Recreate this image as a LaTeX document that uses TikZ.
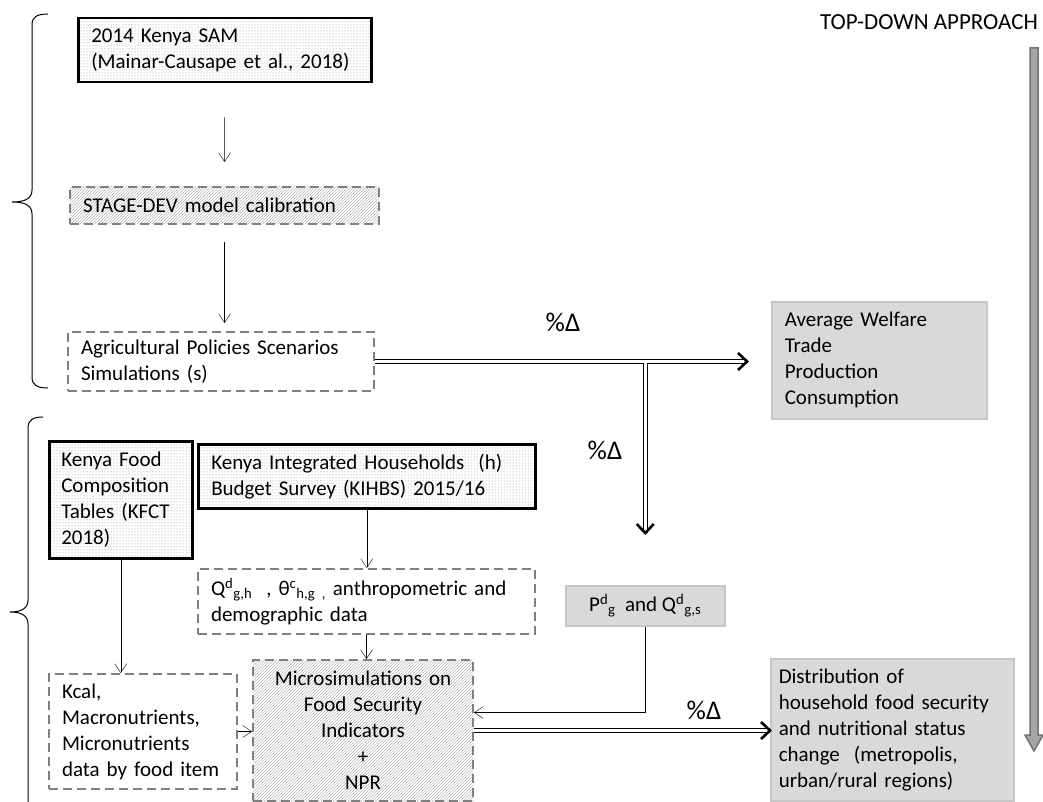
\documentclass[tikz,border=0pt]{standalone}
\usepackage{fontspec}
\setmainfont{Carlito}
\usetikzlibrary{arrows.meta,patterns,decorations.markings}

\tikzset{
  srcbox/.style={draw=black, line width=2.5pt, pattern=dots, pattern color=black!45, anchor=north west, align=left, inner xsep=13pt, inner ysep=0pt},
  calbox/.style={draw=black!50, line width=2pt, dash pattern=on 9pt off 5pt, pattern=north east lines, pattern color=black!28, anchor=north west, inner xsep=13pt, inner ysep=0pt},
  simbox/.style={draw=black!50, line width=2pt, dash pattern=on 9pt off 5pt, fill=white, anchor=north west, align=left, inner xsep=13pt, inner ysep=0pt},
  resbox/.style={draw=black!22, line width=1.5pt, fill=black!15, anchor=north west, align=left, inner xsep=13pt, inner ysep=0pt},
  dbl/.style={double, double distance=3pt, line width=1pt, postaction={decorate},
    decoration={markings, mark=at position 1 with {\draw[line width=2.6pt] (-9pt,8.5pt) -- (0pt,0pt) -- (-9pt,-8.5pt);}}},
  delta/.style={font=\fontsize{27}{30}\selectfont},
  brace/.style={line width=1pt}
}

\begin{document}
\begin{tikzpicture}[x=1pt, y=-1pt, every node/.style={font=\fontsize{21}{26}\selectfont}, >={Straight Barb[length=9pt,width=12pt]}]
    \useasboundingbox (0,0) rectangle (1043,802);
    \clip (0,0) rectangle (1043,802);
    \node[srcbox, text width=267pt, minimum height=64pt] (sam) at (77,17) {2014 Kenya SAM\\(Mainar-Causape et al., 2018)};
    \node[calbox, text width=283pt, minimum height=37pt, align=left] (stage) at (69,186) {STAGE-DEV model calibration};
    \node[simbox, text width=280pt, minimum height=59pt] (agri) at (67,331) {Agricultural Policies Scenarios\\Simulations (s)};
    \node[resbox, text width=189pt, minimum height=117pt] (avg) at (771,301) {Average Welfare\\Trade\\Production\\Consumption};
    \node[srcbox, inner xsep=12pt, text width=119pt, minimum height=117pt] (kfood) at (48,440) {Kenya Food\\Composition\\Tables (KFCT\\2018)};
    \node[srcbox, text width=311pt, minimum height=64pt] (kihbs) at (197,443) {Kenya Integrated Households\ \ (h)\\Budget Survey (KIHBS) 2015/16};
    \node[simbox, text width=311pt, minimum height=65pt] (qdata) at (197,568) {Q\textsuperscript{d}\textsubscript{g,h}\ \ , θ\textsuperscript{c}\textsubscript{h,g ,} anthropometric and\\demographic data};
    \node[resbox, minimum width=159pt, minimum height=40pt] (pq) at (565,585) {P\textsuperscript{d}\textsubscript{g}\ \ and Q\textsuperscript{d}\textsubscript{g,s}};
    \node[simbox, text width=162pt, minimum height=115pt] (kcal) at (48,673) {Kcal,\\Macronutrients,\\Micronutrients\\data by food item};
    \node[calbox, text width=194pt, minimum height=141pt, align=center] (micro) at (252,659) {Microsimulations on\\Food Security\\Indicators\\+\\NPR};
    \node[resbox, inner xsep=8pt, text width=227pt, minimum height=142pt] (dist) at (770,658) {Distribution of\\household food security\\and nutritional status\\change\ \ (metropolis,\\urban/rural regions)};
    \node[font=\fontsize{23}{26}\selectfont] (title) at (929,22) {TOP-DOWN APPROACH};
    \node[delta] (d1) at (563,322) {\%Δ};
    \node[delta] (d2) at (605,450) {\%Δ};
    \node[delta] (d3) at (704,710) {\%Δ};
    \draw[->, shorten <=34pt, shorten >=24pt] (sam) -- (stage);
    \draw[->, shorten <=17pt, shorten >=8pt] (stage.south) -- (stage.south |- agri.north);
    \draw[dbl] (agri.east) -- ([xshift=-24pt]agri.east -| avg.west);
    \draw[dbl] ([yshift=-1.5pt]pq.north |- agri.east) -- ([yshift=52pt]pq.north);
    \draw[->] (kfood.south) -- (kfood.south |- kcal.north);
    \draw[->] (kihbs.south) -- (kihbs.south |- qdata.north);
    \draw[->] (qdata.south) -- (qdata.south |- micro.north);
    \draw[->] (kcal.east) -- (kcal.east -| micro.west);
    \draw[->] (pq.south) |- ([yshift=18pt]micro.east);
    \draw[dbl] (micro.east) -- (micro.east -| dist.west);
    \draw[brace] (48,14) .. controls (37,14) and (32,17) .. (32,25) -- (32,190) .. controls (32,198) and (26,202) .. (12,202)
      .. controls (26,202) and (32,206) .. (32,214) -- (32,377) .. controls (32,385) and (37,388) .. (48,388);
    \draw[brace] (43,417) .. controls (33,417) and (28,420) .. (28,428) -- (28,600) .. controls (28,608) and (22,612) .. (10,612)
      .. controls (22,612) and (28,616) .. (28,624) -- (28,810);
    \draw[fill=black!35, draw=black!55, line width=1.5pt] (1030,48) -- (1038,48) -- (1038,735) -- (1043,735) -- (1034,751) -- (1025,735) -- (1030,735) -- cycle;
  \end{tikzpicture}
\end{document}
